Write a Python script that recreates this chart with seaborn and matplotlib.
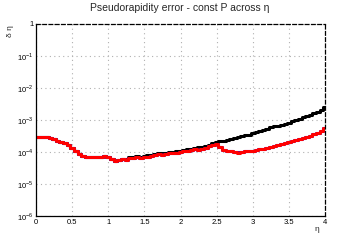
import numpy as np
import pandas as pd
import matplotlib
matplotlib.use("Agg")
import matplotlib.pyplot as plt
import matplotlib.ticker as mticker
import seaborn as sns

# eta bin centres (0.05 wide)
eta = [round(0.05 * i, 2) for i in range(81)]

# red curve
err_red = [3.0e-4, 3.0e-4, 2.9e-4, 2.85e-4, 2.65e-4, 2.5e-4, 2.25e-4, 2.1e-4, 1.85e-4, 1.6e-4,
           1.3e-4, 1.05e-4, 8.5e-5, 7.4e-5, 7.0e-5, 6.8e-5, 6.9e-5, 6.8e-5, 7.1e-5, 7.3e-5,
           7.0e-5, 6.2e-5, 5.4e-5, 5.8e-5, 6.2e-5, 5.7e-5, 6.5e-5, 6.6e-5, 6.9e-5, 6.7e-5,
           6.8e-5, 7.2e-5, 7.6e-5, 7.9e-5, 8.4e-5, 8.2e-5, 8.8e-5, 9.3e-5, 9.0e-5, 9.6e-5,
           1.0e-4, 1.05e-4, 1.08e-4, 1.15e-4, 1.2e-4, 1.18e-4, 1.22e-4, 1.3e-4, 1.5e-4, 1.6e-4,
           1.75e-4, 1.45e-4, 1.15e-4, 1.1e-4, 1.05e-4, 1.02e-4, 9.6e-5, 9.8e-5, 1.05e-4, 1.08e-4,
           1.1e-4, 1.15e-4, 1.2e-4, 1.28e-4, 1.35e-4, 1.45e-4, 1.5e-4, 1.6e-4, 1.75e-4, 1.85e-4,
           2.0e-4, 2.15e-4, 2.3e-4, 2.5e-4, 2.7e-4, 2.95e-4, 3.2e-4, 3.6e-4, 4.0e-4, 4.6e-4, 5.5e-4]

# const P, black curve
err_black = [3.0e-4, 3.0e-4, 2.9e-4, 2.85e-4, 2.65e-4, 2.5e-4, 2.25e-4, 2.1e-4, 1.85e-4, 1.6e-4,
             1.3e-4, 1.05e-4, 8.5e-5, 7.4e-5, 7.0e-5, 6.8e-5, 6.9e-5, 6.8e-5, 7.1e-5, 7.3e-5,
             7.0e-5, 6.2e-5, 5.4e-5, 5.8e-5, 6.2e-5, 5.9e-5, 6.8e-5, 7.0e-5, 7.3e-5, 7.2e-5,
             7.5e-5, 7.9e-5, 8.3e-5, 8.6e-5, 9.0e-5, 9.0e-5, 9.6e-5, 1.0e-4, 1.0e-4, 1.05e-4,
             1.1e-4, 1.15e-4, 1.2e-4, 1.28e-4, 1.35e-4, 1.4e-4, 1.45e-4, 1.55e-4, 1.7e-4, 1.85e-4,
             2.1e-4, 2.15e-4, 2.2e-4, 2.4e-4, 2.5e-4, 2.7e-4, 2.85e-4, 3.1e-4, 3.3e-4, 3.5e-4,
             3.8e-4, 4.1e-4, 4.4e-4, 4.9e-4, 5.4e-4, 6.0e-4, 6.3e-4, 6.7e-4, 7.2e-4, 7.7e-4,
             8.2e-4, 9.0e-4, 9.8e-4, 1.1e-3, 1.2e-3, 1.35e-3, 1.45e-3, 1.6e-3, 1.8e-3, 2.1e-3, 2.5e-3]

# blue curve, almost fully hidden under the red one
err_blue = [3.0e-4, 3.0e-4, 2.9e-4, 2.85e-4, 2.65e-4, 2.5e-4, 2.25e-4, 2.1e-4, 1.85e-4, 1.6e-4,
            1.3e-4, 1.05e-4, 8.5e-5, 7.4e-5, 7.0e-5, 6.8e-5, 6.9e-5, 6.8e-5, 7.1e-5, 7.3e-5,
            7.0e-5, 6.2e-5, 5.4e-5, 5.8e-5, 6.2e-5, 5.7e-5, 6.5e-5, 6.6e-5, 6.9e-5, 6.7e-5,
            6.8e-5, 7.2e-5, 7.6e-5, 7.9e-5, 8.4e-5, 8.2e-5, 8.8e-5, 9.3e-5, 9.0e-5, 9.6e-5,
            1.0e-4, 1.05e-4, 1.08e-4, 1.15e-4, 1.2e-4, 1.18e-4, 1.22e-4, 1.3e-4, 1.5e-4, 1.6e-4,
            1.75e-4, 1.45e-4, 1.15e-4, 1.1e-4, 1.05e-4, 1.02e-4, 9.7e-5, 9.8e-5, 1.05e-4, 1.08e-4,
            1.1e-4, 1.15e-4, 1.2e-4, 1.28e-4, 1.38e-4, 1.45e-4, 1.52e-4, 1.6e-4, 1.75e-4, 1.88e-4,
            2.0e-4, 2.15e-4, 2.3e-4, 2.5e-4, 2.7e-4, 2.95e-4, 3.2e-4, 3.6e-4, 4.0e-4, 4.6e-4, 5.5e-4]

sns.set_theme(style='white')
plt.rcParams['font.family'] = ['Liberation Sans', 'DejaVu Sans']
plt.rcParams['mathtext.fontset'] = 'custom'
plt.rcParams['mathtext.rm'] = 'Liberation Sans'

fig = plt.figure(figsize=(3.6, 2.4), dpi=100)
ax = fig.add_axes([0.1, 0.1, 0.803, 0.8])

df = pd.DataFrame({'eta': eta, 'black': err_black, 'red': err_red, 'blue': err_blue})
sns.lineplot(data=df, x='eta', y='black', color='black', lw=2.2, drawstyle='steps-mid', ax=ax)
sns.lineplot(data=df, x='eta', y='blue', color='blue', lw=2.2, drawstyle='steps-mid', ax=ax)
sns.lineplot(data=df, x='eta', y='red', color='red', lw=2.2, drawstyle='steps-mid', ax=ax)

ax.set_yscale('log')
ax.set_xlim(0, 4)
ax.set_ylim(1e-6, 1)
ax.xaxis.set_major_locator(mticker.MultipleLocator(0.5))
ax.xaxis.set_minor_locator(mticker.MultipleLocator(0.1))
ax.xaxis.set_major_formatter(mticker.FuncFormatter(lambda v, p: f"{v:g}"))
ax.yaxis.set_major_locator(mticker.LogLocator(base=10, numticks=10))
ax.yaxis.set_minor_locator(mticker.LogLocator(base=10, subs=np.arange(2, 10), numticks=20))
ax.yaxis.set_minor_formatter(mticker.NullFormatter())
ax.yaxis.set_major_formatter(mticker.FuncFormatter(
    lambda v, p: '1' if abs(v - 1) < 1e-9 else r'$10^{%d}$' % round(np.log10(v))))

ax.tick_params(which='major', direction='in', length=5, width=0.8, labelsize=5.5, pad=2,
               top=False, right=False, colors='black')
ax.tick_params(which='minor', direction='in', length=2.5, width=0.6, top=False, right=False)
ax.grid(True, which='major', ls=(0, (1, 3)), color='#b0b0b0', lw=0.8)

for s in ['left', 'bottom']:
    ax.spines[s].set_color('black')
    ax.spines[s].set_linewidth(0.9)
for s in ['top', 'right']:
    ax.spines[s].set_color('black')
    ax.spines[s].set_linestyle((0, (3, 2)))
    ax.spines[s].set_linewidth(0.9)

# axis titles drawn as figure text, ROOT style
ax.xaxis.label.set_visible(False)
ax.yaxis.label.set_visible(False)
fig.text(0.5, 0.965, 'Pseudorapidity error - const P across η', ha='center', va='center', fontsize=7.5)
fig.text(0.028, 0.895, 'δ η', rotation=90, ha='center', va='top', fontsize=6)
fig.text(0.886, 0.045, 'η', ha='right', va='center', fontsize=6)

fig.savefig('out.png', dpi=100)
